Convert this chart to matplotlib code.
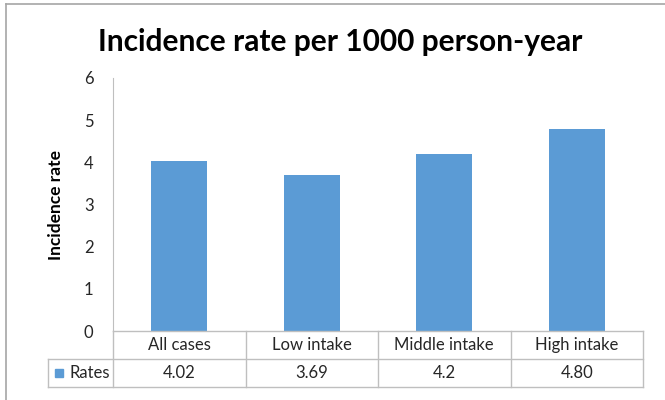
import matplotlib.pyplot as plt
from matplotlib.patches import Rectangle
from matplotlib.lines import Line2D

categories = ["All cases", "Low intake", "Middle intake", "High intake"]
rates = [4.02, 3.69, 4.2, 4.80]
rate_labels = ["4.02", "3.69", "4.2", "4.80"]
series_name = "Rates"
yticks = [0, 1, 2, 3, 4, 5, 6]

bar_color = "#5B9BD5"
line_color = "#BFBFBF"
text_color = "#262626"
plt.rcParams['font.family'] = ['Lato', 'DejaVu Sans']

W, H = 665, 400
fig = plt.figure(figsize=(6.65, 4.0), dpi=100)

# outer chart border (only left and top show in the crop)
fig.add_artist(Line2D([6 / W, 6 / W], [0, 1 - 4 / H], transform=fig.transFigure,
                      color="#A6A6A6", lw=1.2))
fig.add_artist(Line2D([6 / W, 1], [1 - 4 / H, 1 - 4 / H], transform=fig.transFigure,
                      color="#A6A6A6", lw=1.2))

# axes placed in pixels
ax_l, ax_r, ax_t, ax_b = 113, 643, 78, 331
ax = fig.add_axes([ax_l / W, 1 - ax_b / H, (ax_r - ax_l) / W, (ax_b - ax_t) / H])

x = list(range(len(categories)))
ax.bar(x, rates, width=0.42, color=bar_color)
ax.set_xlim(-0.5, len(categories) - 0.5)
ax.set_ylim(0, 6)
ax.set_yticks(yticks)
ax.set_yticklabels([str(t) for t in yticks], fontsize=12, color=text_color)
ax.tick_params(axis='y', length=0, pad=14)
ax.set_xticks([])
for s in ["top", "right", "bottom"]:
    ax.spines[s].set_visible(False)
ax.spines["left"].set_color(line_color)

ax.set_ylabel("Incidence rate", fontsize=12.5, fontweight="bold", color="black", labelpad=14)

fig.text(340 / W, 1 - 42 / H, "Incidence rate per 1000 person-year",
         ha="center", va="center", fontsize=21.5, fontweight="bold", color="black")

# data table below the axes
px = (ax_b - ax_t)
tr = ax.get_xaxis_transform()
row1 = -28 / px
row2 = -56 / px
left_edge = -0.5 - 65 / 132.5
n = len(categories)
ax.add_line(Line2D([-0.5, n - 0.5], [0, 0], transform=tr, color=line_color, lw=1, clip_on=False))
ax.add_line(Line2D([left_edge, n - 0.5], [row1, row1], transform=tr, color=line_color, lw=1, clip_on=False))
ax.add_line(Line2D([left_edge, n - 0.5], [row2, row2], transform=tr, color=line_color, lw=1, clip_on=False))
ax.add_line(Line2D([left_edge, left_edge], [row1, row2], transform=tr, color=line_color, lw=1, clip_on=False))
for b in range(n + 1):
    ax.add_line(Line2D([b - 0.5, b - 0.5], [0, row2], transform=tr, color=line_color, lw=1, clip_on=False))

for i, (c, v) in enumerate(zip(categories, rate_labels)):
    ax.text(i, row1 / 2, c, transform=tr, ha="center", va="center", fontsize=12, color=text_color)
    ax.text(i, (row1 + row2) / 2, v, transform=tr, ha="center", va="center", fontsize=12, color=text_color)

# legend key in the table
mid = (row1 + row2) / 2
ax.add_patch(Rectangle((left_edge + 0.05, mid - 4 / px), 8 / 132.5, 8 / px, transform=tr,
                       color=bar_color, clip_on=False))
ax.text(left_edge + 0.16, mid, series_name, transform=tr, ha="left", va="center",
        fontsize=12, color=text_color)

fig.savefig("out.png", dpi=100)
